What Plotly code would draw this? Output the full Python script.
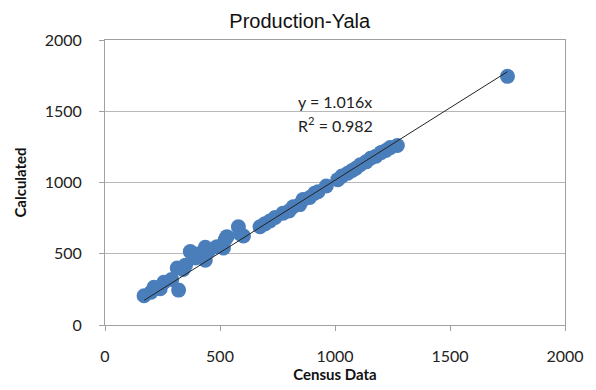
import plotly.graph_objects as go

census = [170, 200, 213, 240, 256, 290, 314, 320, 340, 350, 371, 393, 410, 436, 436, 450,
          487, 515, 523, 530, 580, 587, 602, 674, 695, 717, 740, 774, 800, 818, 847, 861,
          890, 911, 926, 962, 1012, 1030, 1055, 1075, 1091, 1110, 1135, 1155, 1178, 1200,
          1221, 1240, 1271, 1750]
calculated = [205, 230, 265, 255, 300, 320, 400, 245, 390, 420, 515, 470, 500, 545, 455, 520,
              550, 540, 600, 620, 690, 640, 625, 690, 710, 730, 755, 785, 800, 830, 845, 880,
              895, 925, 935, 975, 1020, 1045, 1065, 1085, 1100, 1125, 1145, 1170, 1185, 1210,
              1225, 1245, 1260, 1745]
slope = 1.016
trend_x = [min(census), max(census)]
trend_y = [slope * v for v in trend_x]
x_ticks = [0, 500, 1000, 1500, 2000]
y_ticks = [0, 500, 1000, 1500, 2000]

FONT = "Lato, Open Sans, sans-serif"

fig = go.Figure()
fig.add_trace(go.Scatter(x=census, y=calculated, mode="markers",
                         marker=dict(size=15, color="#4a7ebb", line=dict(width=0)),
                         showlegend=False, hoverinfo="skip"))
fig.add_trace(go.Scatter(x=trend_x, y=trend_y, mode="lines",
                         line=dict(color="#222222", width=1),
                         showlegend=False, hoverinfo="skip"))

fig.add_annotation(x=1000, y=1570, xref="x", yref="y", text="y = 1.016x",
                   showarrow=False, font=dict(family=FONT, size=16, color="#222"))
fig.add_annotation(x=1000, y=1410, xref="x", yref="y", text="R<sup>2</sup> = 0.982",
                   showarrow=False, font=dict(family=FONT, size=16, color="#222"))

fig.update_layout(
    width=596, height=390,
    margin=dict(l=105, r=29, t=40, b=65),
    paper_bgcolor="white", plot_bgcolor="white",
    title=dict(text="Production-Yala", x=0.503, xanchor="center", y=0.945, yanchor="middle",
               font=dict(family="Liberation Sans, Arial, sans-serif", size=20, color="#111")),
    xaxis=dict(range=[0, 2000], tickvals=x_ticks, showgrid=False, zeroline=False,
               showline=True, linecolor="#a0a0a0", linewidth=1, mirror=True,
               ticks="outside", ticklen=5, tickcolor="#a0a0a0", ticklabelstandoff=12,
               tickfont=dict(family=FONT, size=16, color="#222"),
               title=dict(text="<b>Census Data</b>", standoff=0,
                          font=dict(family=FONT, size=15, color="#111"))),
    yaxis=dict(range=[0, 2000], tickvals=y_ticks, showgrid=True, gridcolor="#b8b8b8", gridwidth=1,
               zeroline=False, showline=True, linecolor="#a0a0a0", linewidth=1, mirror=True,
               ticks="outside", ticklen=5, tickcolor="#a0a0a0", ticklabelstandoff=14,
               tickfont=dict(family=FONT, size=16, color="#222"),
               title=dict(text="<b>Calculated</b>", standoff=14,
                          font=dict(family=FONT, size=15, color="#111"))),
)

fig.write_html("out.html")
